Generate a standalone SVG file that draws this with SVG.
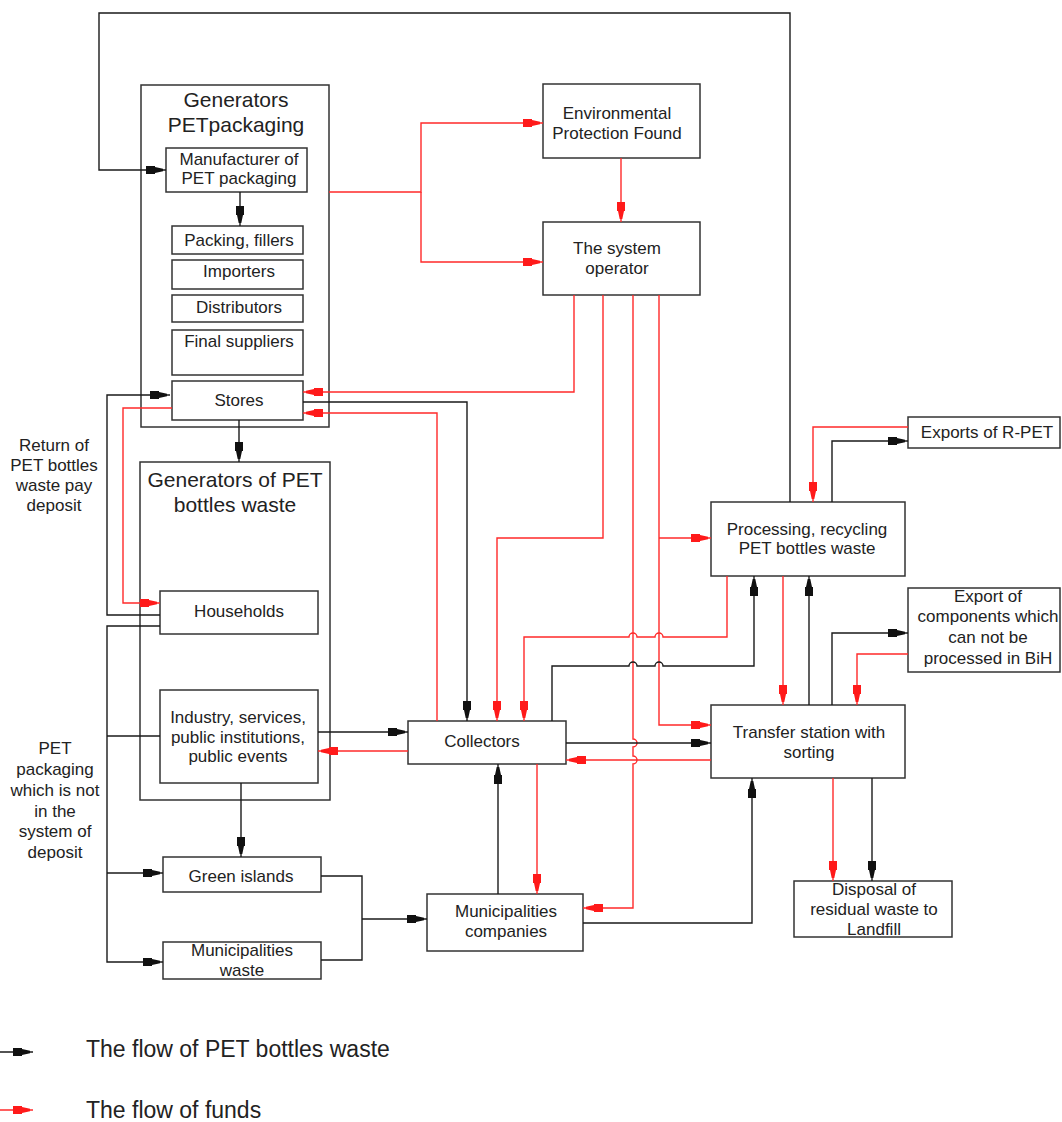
<svg xmlns="http://www.w3.org/2000/svg" width="1062" height="1122" viewBox="0 0 1062 1122">
<defs>
<style>
.box{fill:#fff;stroke:#333;stroke-width:1.5}
.cont{fill:none;stroke:#333;stroke-width:1.5}
text{font-family:"Liberation Sans",Arial,sans-serif;font-size:17px;fill:#222;text-anchor:middle}
.title{font-size:21px}
.legend{font-size:23px;text-anchor:start}
.k{fill:none;stroke:#1a1a1a;stroke-width:1.4;marker-end:url(#ak)}
.r{fill:none;stroke:#ff2a2a;stroke-width:1.4;marker-end:url(#ar)}
.kn{fill:none;stroke:#1a1a1a;stroke-width:1.4}
.rn{fill:none;stroke:#ff2a2a;stroke-width:1.4}
</style>
<marker id="ak" markerUnits="userSpaceOnUse" markerWidth="24" markerHeight="12" viewBox="0 -6 24 12" refX="20" refY="0" orient="auto">
<path d="M0,-4 L9,-4 L9,-3 L17,-1.3 L17,1.3 L9,3 L9,4 L0,4 Z" fill="#111"/>
</marker>
<marker id="ar" markerUnits="userSpaceOnUse" markerWidth="24" markerHeight="12" viewBox="0 -6 24 12" refX="20" refY="0" orient="auto">
<path d="M0,-4 L9,-4 L9,-3 L17,-1.3 L17,1.3 L9,3 L9,4 L0,4 Z" fill="#ff1a1a"/>
</marker>
</defs>
<rect width="1062" height="1122" fill="#fff"/>

<g id="gen-packaging">
<rect class="cont" x="141" y="85" width="188" height="342"/>
<text class="title" x="236" y="107">Generators</text>
<text class="title" x="236" y="132">PETpackaging</text>
</g>
<g id="manufacturer"><rect class="box" x="166" y="148" width="141" height="44"/><text x="239" y="165">Manufacturer of</text><text x="239" y="184">PET packaging</text></g>
<g id="packing"><rect class="box" x="172" y="226" width="131" height="28"/><text x="239" y="246">Packing, fillers</text></g>
<g id="importers"><rect class="box" x="172" y="260" width="131" height="29"/><text x="239" y="277">Importers</text></g>
<g id="distributors"><rect class="box" x="172" y="295" width="131" height="27"/><text x="239" y="313">Distributors</text></g>
<g id="final-suppliers"><rect class="box" x="172" y="330" width="131" height="45"/><text x="239" y="347">Final suppliers</text></g>
<g id="stores"><rect class="box" x="172" y="381" width="131" height="39"/><text x="239" y="406">Stores</text></g>

<g id="gen-waste">
<rect class="cont" x="140" y="462" width="190" height="338"/>
<text class="title" x="235" y="487">Generators of PET</text>
<text class="title" x="235" y="512">bottles waste</text>
</g>
<g id="households"><rect class="box" x="160" y="591" width="158" height="43"/><text x="239" y="617">Households</text></g>
<g id="industry"><rect class="box" x="160" y="690" width="158" height="93"/><text x="238" y="723">Industry, services,</text><text x="238" y="743">public institutions,</text><text x="238" y="762">public events</text></g>
<g id="green-islands"><rect class="box" x="163" y="857" width="158" height="35"/><text x="241" y="882">Green islands</text></g>
<g id="municipal-waste"><rect class="box" x="163" y="942" width="158" height="37"/><text x="242" y="956">Municipalities</text><text x="242" y="976">waste</text></g>

<g id="collectors"><rect class="box" x="408" y="721" width="158" height="43"/><text x="482" y="747">Collectors</text></g>
<g id="municipal-companies"><rect class="box" x="427" y="894" width="156" height="57"/><text x="506" y="917">Municipalities</text><text x="506" y="937">companies</text></g>
<g id="env-fund"><rect class="box" x="543" y="84" width="157" height="74"/><text x="617" y="119">Environmental</text><text x="617" y="139">Protection Found</text></g>
<g id="system-operator"><rect class="box" x="543" y="222" width="157" height="73"/><text x="617" y="254">The system</text><text x="617" y="274">operator</text></g>
<g id="processing"><rect class="box" x="711" y="502" width="194" height="74"/><text x="807" y="535">Processing, recycling</text><text x="807" y="554">PET bottles waste</text></g>
<g id="exports-rpet"><rect class="box" x="908" y="417" width="152" height="31"/><text x="987" y="438">Exports of R-PET</text></g>
<g id="export-components"><rect class="box" x="908" y="588" width="152" height="84"/><text x="988" y="602">Export of</text><text x="988" y="622">components which</text><text x="988" y="643">can not be</text><text x="988" y="664">processed in BiH</text></g>
<g id="transfer"><rect class="box" x="711" y="705" width="194" height="73"/><text x="809" y="738">Transfer station with</text><text x="809" y="758">sorting</text></g>
<g id="disposal"><rect class="box" x="794" y="881" width="158" height="56"/><text x="874" y="895">Disposal of</text><text x="874" y="915">residual waste to</text><text x="874" y="935">Landfill</text></g>

<g id="side-labels">
<text x="54" y="451">Return of</text>
<text x="54" y="471">PET bottles</text>
<text x="54" y="491">waste pay</text>
<text x="54" y="511">deposit</text>
<text x="55" y="754">PET</text>
<text x="55" y="775">packaging</text>
<text x="55" y="796">which is not</text>
<text x="55" y="817">in the</text>
<text x="55" y="837">system of</text>
<text x="55" y="858">deposit</text>
</g>

<g id="connectors">
<path class="k" d="M790,502 V13 H99 V170 H166"/>
<path class="k" d="M240,192 V226"/>
<path class="r" d="M329,192 H421 V123 H543"/>
<path class="r" d="M421,192 V262 H543"/>
<path class="r" d="M621,158 V222"/>
<path class="r" d="M574,295 V392 H303"/>
<path class="r" d="M603,295 V538 H497 V721"/>
<path class="r" d="M633,295 V739 a4,4 0 0 1 0,8 V756 a4,4 0 0 1 0,8 V908 H583"/>
<path class="r" d="M659,295 V725 H711"/>
<path class="r" d="M659,538 H711"/>
<path class="k" d="M303,402 H467 V721"/>
<path class="r" d="M437,721 V413 H303"/>
<path class="r" d="M172,408 H123 V603 H160"/>
<path class="k" d="M160,615 H107 V395 H170"/>
<path class="k" d="M160,626 H107 V962 H163"/>
<path class="kn" d="M160,736 H107"/>
<path class="k" d="M107,873 H163"/>
<path class="k" d="M239,420 V462"/>
<path class="k" d="M241,783 V857"/>
<path class="k" d="M318,732 H408"/>
<path class="r" d="M408,751 H318"/>
<path class="kn" d="M321,876 H362 V960 H321"/>
<path class="k" d="M362,919 H427"/>
<path class="k" d="M498,894 V764"/>
<path class="r" d="M537,764 V894"/>
<path class="k" d="M583,923 H752 V778"/>
<path class="k" d="M566,743 H711"/>
<path class="r" d="M711,760 H566"/>
<path class="r" d="M727,576 V637 H663 a4,4 0 0 0 -8,0 H637 a4,4 0 0 0 -8,0 H524 V721"/>
<path class="k" d="M552,721 V666 H629 a4,4 0 0 1 8,0 H655 a4,4 0 0 1 8,0 H754 V576"/>
<path class="r" d="M783,576 V705"/>
<path class="k" d="M809,705 V576"/>
<path class="k" d="M832,705 V633 H908"/>
<path class="r" d="M908,654 H857 V705"/>
<path class="r" d="M833,778 V881"/>
<path class="k" d="M872,778 V881"/>
<path class="k" d="M832,502 V441 H908"/>
<path class="r" d="M908,427 H813 V502"/>
</g>

<g id="legend">
<path class="k" d="M0,1052 H33"/>
<text class="legend" x="86" y="1057">The flow of PET bottles waste</text>
<path class="r" d="M0,1110 H33"/>
<text class="legend" x="86" y="1118">The flow of funds</text>
</g>
</svg>
